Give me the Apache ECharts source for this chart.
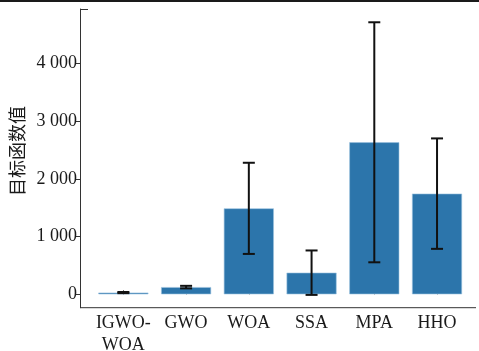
<!DOCTYPE html>
<html>
<head>
<meta charset="utf-8">
<script src="https://cdn.jsdelivr.net/npm/echarts@6/dist/echarts.min.js"></script>
<style>html,body{margin:0;padding:0;background:#fff;}#c{width:479px;height:351px;}</style>
</head>
<body>
<div id="c"></div>
<script>
const categories = ['IGWO-\nWOA', 'GWO', 'WOA', 'SSA', 'MPA', 'HHO'];
const means = [30, 125, 1490, 375, 2635, 1745];
const errors = [10, 22, 790, 385, 2080, 957];
const yTicks = [0, 1000, 2000, 3000, 4000];
const yName = '目标函数值';

const chart = echarts.init(document.getElementById('c'), null, {renderer: 'canvas'});
const serif = '"Liberation Serif", "DejaVu Serif", serif';
const errData = means.map((m, i) => [i, m - errors[i], m + errors[i]]);

chart.setOption({
  animation: false,
  backgroundColor: '#fff',
  grid: {left: 92, right: 10.6, top: 9, bottom: 43.3, containLabel: false, outerBoundsMode: 'none'},
  xAxis: {
    type: 'category',
    data: categories,
    axisLine: {show: false},
    axisTick: {show: true, inside: true, length: 4, alignWithLabel: true, lineStyle: {color: '#333', width: 1}},
    axisLabel: {fontFamily: serif, fontSize: 18, color: '#1a1a1a', margin: 5, lineHeight: 22, interval: 0}
  },
  yAxis: {
    type: 'value',
    min: -232,
    max: 4945,
    offset: 12,
    splitLine: {show: false},
    axisLine: {show: true, lineStyle: {color: '#333', width: 1}},
    axisTick: {show: true, length: 4, customValues: yTicks, lineStyle: {color: '#333'}},
    axisLabel: {
      fontFamily: serif, fontSize: 18, color: '#1a1a1a', margin: 3,
      customValues: yTicks,
      formatter: v => String(v).replace(/\B(?=(\d{3})+(?!\d))/g, ' ')
    }
  },
  series: [
    {
      type: 'bar',
      data: means,
      barWidth: 50,
      itemStyle: {color: '#2c75ab', borderColor: '#9cc3df', borderWidth: 0.6}
    },
    {
      type: 'custom',
      data: errData,
      z: 10,
      renderItem: function (params, api) {
        const x = api.value(0);
        const lo = api.coord([x, api.value(1)]);
        const hi = api.coord([x, api.value(2)]);
        const hw = 6;
        const st = {stroke: '#111', lineWidth: 2};
        return {
          type: 'group',
          children: [
            {type: 'line', shape: {x1: lo[0], y1: lo[1], x2: hi[0], y2: hi[1]}, style: st},
            {type: 'line', shape: {x1: lo[0] - hw, y1: lo[1], x2: lo[0] + hw, y2: lo[1]}, style: st},
            {type: 'line', shape: {x1: hi[0] - hw, y1: hi[1], x2: hi[0] + hw, y2: hi[1]}, style: st}
          ]
        };
      }
    }
  ],
  graphic: [
    {type: 'rect', shape: {x: 0, y: 0, width: 479, height: 2}, style: {fill: '#1a1a1a'}},
    {type: 'line', shape: {x1: 80, y1: 307.7, x2: 476, y2: 307.7}, style: {stroke: '#333', lineWidth: 1}},
    {type: 'line', shape: {x1: 80, y1: 9.5, x2: 88, y2: 9.5}, style: {stroke: '#333', lineWidth: 1}},
    {type: 'text', x: 17, y: 151, rotation: Math.PI / 2,
     style: {text: yName, fontFamily: '"Noto Sans CJK SC", sans-serif', fontSize: 18, fill: '#1a1a1a', align: 'center', verticalAlign: 'middle'}}
  ]
});
</script>
</body>
</html>
